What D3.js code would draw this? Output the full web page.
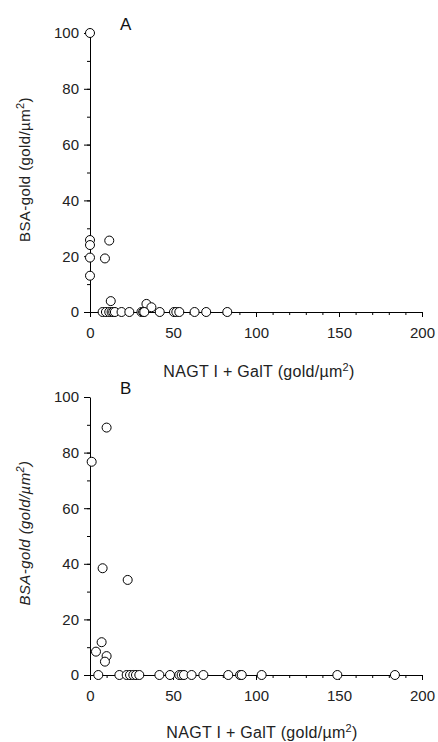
<!DOCTYPE html>
<html>
<head>
<meta charset="utf-8">
<script src="https://cdn.jsdelivr.net/npm/d3@7"></script>
<style>
  body { margin: 0; background: #fff; }
  svg { display: block; font-family: "Liberation Sans", Arial, sans-serif; }
  .axis path, .axis line { stroke: #000; stroke-width: 1; }
  .axis text { font-size: 15px; fill: #222; }
</style>
</head>
<body>
<script>
// values
const aX = [0, 0, 0, 0, 0, 11.6, 9, 12.5, 34, 37,
  7.6, 9.6, 11.6, 13, 14, 15, 19, 23.7, 31, 32, 32.7, 42, 50.6, 52, 53.8, 63, 70, 82.7];
const aY = [100, 25.8, 24, 19.5, 13, 25.6, 19.2, 3.9, 2.9, 1.7,
  0, 0, 0, 0, 0, 0, 0, 0, 0, 0, 0, 0, 0, 0, 0, 0, 0, 0];

const bX = [1, 10, 7.6, 22.7, 3.6, 7, 10, 9,
  5, 17.7, 22.1, 24.1, 26.1, 27.7, 29.7, 41.8, 48.2, 53.8, 55.2, 56.6, 61.2, 68.3, 83.3, 90.4, 91.4, 103.4, 149, 183.7];
const bY = [76.7, 89, 38.4, 34.2, 8.4, 11.8, 6.8, 4.8,
  0, 0, 0, 0, 0, 0, 0, 0, 0, 0, 0, 0, 0, 0, 0, 0, 0, 0, 0, 0];

const xTicks = [0, 50, 100, 150, 200];
const yTicks = [0, 20, 40, 60, 80, 100];

const width = 438, height = 742;
const svg = d3.select("body").append("svg").attr("width", width).attr("height", height);

const x = d3.scaleLinear().domain([0, 200]).range([90, 422]);

function drawPanel(cfg) {
  const y = d3.scaleLinear().domain([0, 100]).range([cfg.bottom, cfg.top]);
  const g = svg.append("g");

  // minor ticks
  g.append("g").attr("class", "axis")
    .attr("transform", `translate(0,${cfg.bottom})`)
    .call(d3.axisBottom(x).tickValues(d3.range(0, 201, 10)).tickSize(3).tickFormat(""))
    .call(a => a.select(".domain").remove());
  g.append("g").attr("class", "axis")
    .attr("transform", `translate(${x(0)},0)`)
    .call(d3.axisLeft(y).tickValues(d3.range(0, 101, 10)).tickSize(3).tickFormat(""))
    .call(a => a.select(".domain").remove());

  // major ticks + labels
  g.append("g").attr("class", "axis")
    .attr("transform", `translate(0,${cfg.bottom})`)
    .call(d3.axisBottom(x).tickValues(xTicks).tickSize(5).tickPadding(10).tickSizeOuter(0));
  g.append("g").attr("class", "axis")
    .attr("transform", `translate(${x(0)},0)`)
    .call(d3.axisLeft(y).tickValues(yTicks).tickSize(6).tickPadding(5).tickSizeOuter(0));

  // panel letter
  g.append("text")
    .attr("x", 120).attr("y", cfg.top - 3)
    .attr("font-size", "17px").attr("fill", "#111")
    .text(cfg.letter);

  // y title
  const yt = g.append("text")
    .attr("transform", `translate(30,${(cfg.top + cfg.bottom) / 2 - 3}) rotate(-90)`)
    .attr("text-anchor", "middle")
    .attr("font-size", "15px").attr("letter-spacing", "0.4px").attr("fill", "#222")
    .attr("font-style", cfg.italic ? "italic" : "normal");
  yt.append("tspan").text("BSA-gold (gold/µm");
  yt.append("tspan").attr("baseline-shift", "super").attr("font-size", "11px").text("2");
  yt.append("tspan").text(")");

  // x title
  const xt = g.append("text")
    .attr("x", cfg.xTitleX).attr("y", cfg.bottom + cfg.xTitle)
    .attr("text-anchor", "middle")
    .attr("font-size", "16px").attr("letter-spacing", "0.3px").attr("fill", "#222");
  xt.append("tspan").text("NAGT I + GalT (gold/µm");
  xt.append("tspan").attr("baseline-shift", "super").attr("font-size", "11px").text("2");
  xt.append("tspan").text(")");

  // points
  g.append("g").selectAll("circle")
    .data(d3.range(cfg.xs.length)).enter().append("circle")
    .attr("cx", i => x(cfg.xs[i]))
    .attr("cy", i => y(cfg.ys[i]))
    .attr("r", 4.5)
    .attr("fill", "#fff")
    .attr("stroke", "#000")
    .attr("stroke-width", 1);
}

drawPanel({ letter: "A", top: 33, bottom: 312, xs: aX, ys: aY, italic: false, xTitle: 65, xTitleX: 259 });
drawPanel({ letter: "B", top: 397, bottom: 675, xs: bX, ys: bY, italic: true, xTitle: 63, xTitleX: 262 });
</script>
</body>
</html>
